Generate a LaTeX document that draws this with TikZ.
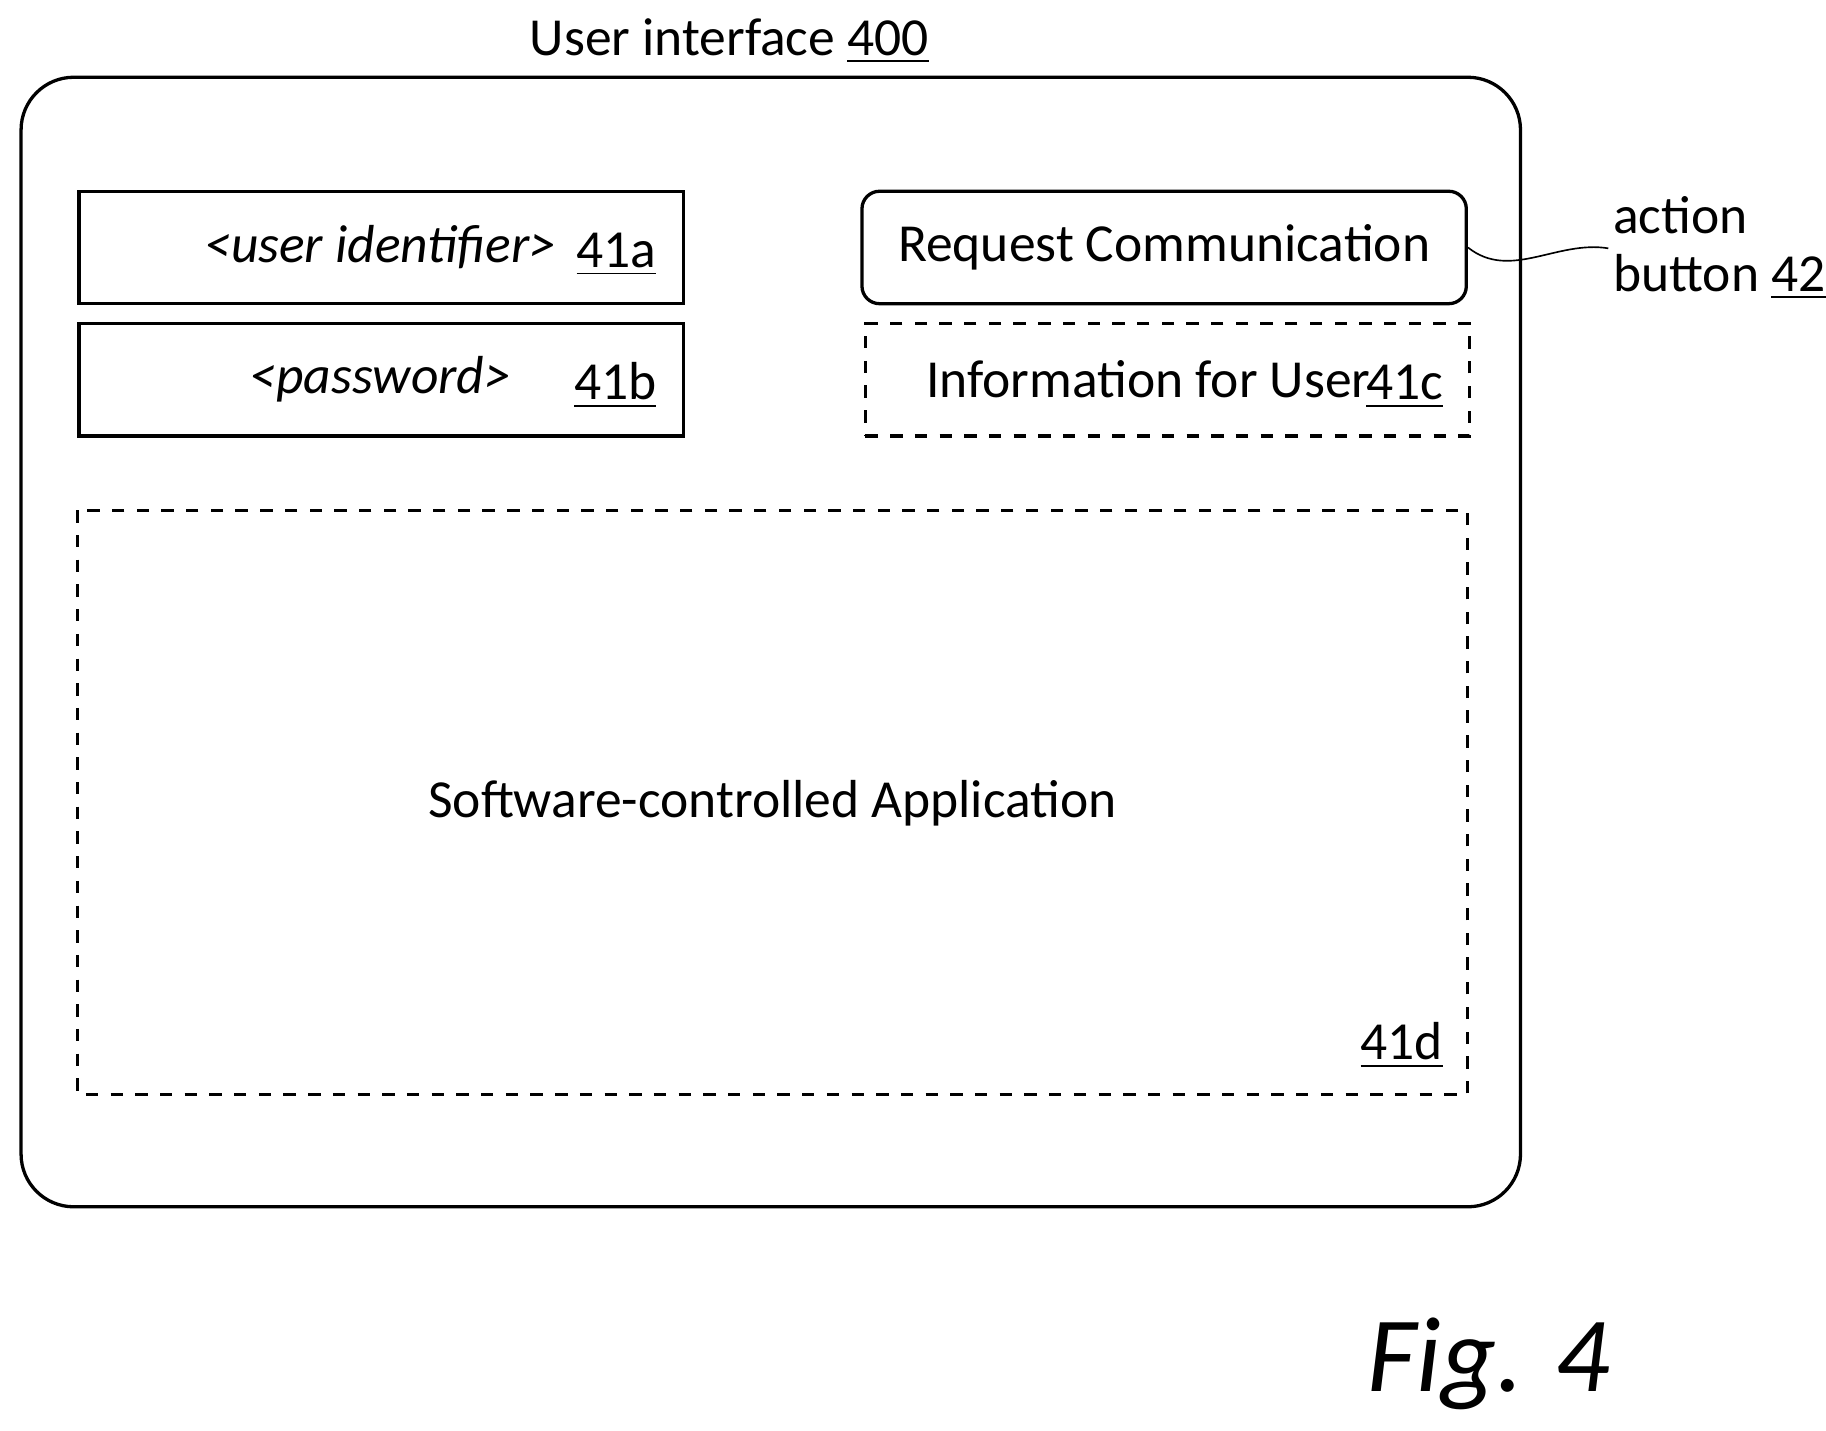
\documentclass[tikz,border=0pt]{standalone}
\usepackage{fontspec}
\setmainfont{Carlito}
\usetikzlibrary{positioning}
\tikzset{
  field/.style={draw,thick,minimum width=5.16cm,minimum height=0.96cm,font=\fontsize{13}{15}\selectfont},
  dfield/.style={field,dashed},
  num/.style={font=\fontsize{13}{15}\selectfont,inner sep=1pt},
}
\newcommand{\refnum}[1]{\underline{#1}}
\begin{document}
\begin{tikzpicture}[x=0.01cm,y=-0.01cm]
            \useasboundingbox (0,0) rectangle (1560,1222);
            % outer frame
            \draw[thick,rounded corners=0.45cm] (18,66) rectangle (1299,1031);
            \node[num] (title) at (623,35) {User interface \refnum{400}};
            % left fields
            \node[field,anchor=north west] (uid) at (66,162) {};
            \node[field,anchor=north west] (pwd) at (66,275) {};
            \node[num] at (325,211) {\itshape <user identifier>};
            \node[num] at (325,324) {\itshape <password>};
            \node[num,anchor=south east] at (565,240) {\refnum{41a}};
            \node[num,anchor=south east] at (565,353) {\refnum{41b}};
            % right fields
            \node[field,rounded corners=0.15cm,anchor=north west] (btn) at (735,162) {Request Communication};
            \node[dfield,anchor=north west] (info) at (738,275) {};
            \node[num] at (981,324) {Information for User};
            \node[num,anchor=south east] at (1237,353) {\refnum{41c}};
            % application area
            \draw[thick,dashed] (66,436) rectangle (1254,935);
            \node[num] (app) at (660,686) {Software-controlled Application};
            \node[num,anchor=south east] at (1237,917) {\refnum{41d}};
            % callout
            \node[num,align=left,anchor=north west] (act) at (1374,164) {action\\[-1pt]button \refnum{42}};
            \draw (btn.east) .. controls (1290,240) and (1330,205) .. (act.west);
            \node[font=\fontsize{26}{30}\selectfont\itshape\rmfamily] (fig) at (1272,1165) {Fig. 4};
        \end{tikzpicture}
\end{document}
